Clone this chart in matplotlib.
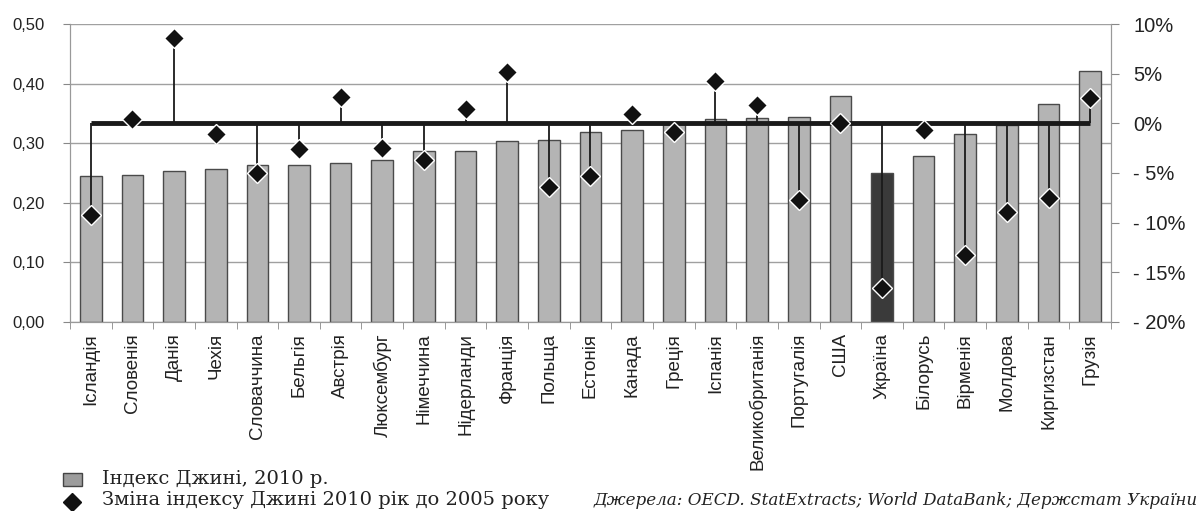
import numpy as np
import matplotlib
matplotlib.use('Agg')
import matplotlib.pyplot as plt
from matplotlib.ticker import FixedLocator
from matplotlib.patches import Rectangle
from matplotlib.lines import Line2D

# Data
countries = ['Ісландія', 'Словенія', 'Данія', 'Чехія', 'Словаччина', 'Бельгія', 'Австрія',
             'Люксембург', 'Німеччина', 'Нідерланди', 'Франція', 'Польща', 'Естонія', 'Канада',
             'Греція', 'Іспанія', 'Великобританія', 'Португалія', 'США', 'Україна', 'Білорусь',
             'Вірменія', 'Молдова', 'Киргизстан', 'Грузія']
gini_2010 = [0.245, 0.247, 0.254, 0.256, 0.263, 0.263, 0.267, 0.272, 0.287, 0.287, 0.304,
             0.306, 0.319, 0.322, 0.333, 0.340, 0.342, 0.344, 0.380, 0.250, 0.279, 0.315,
             0.330, 0.366, 0.421]
gini_change = [-9.2, 0.4, 8.6, -1.1, -5.0, -2.6, 2.7, -2.5, -3.7, 1.4, 5.2, -6.4, -5.3, 0.9,
               -0.9, 4.3, 1.8, -7.7, 0.0, -16.6, -0.7, -13.3, -8.9, -7.5, 2.6]
left_ticks = [0.0, 0.1, 0.2, 0.3, 0.4, 0.5]
right_ticks = [-20, -15, -10, -5, 0, 5, 10]
highlight = 'Україна'

sans = ['Liberation Sans', 'DejaVu Sans']
serif = ['DejaVu Serif']
W, H = 1202, 511

fig = plt.figure(figsize=(12.02, 5.11), dpi=100)
ax = fig.add_axes([0.0582, 0.370, 0.8661, 0.583])
ax2 = ax.twinx()

x = np.arange(len(countries))
colors = ['#3a3a3a' if c == highlight else '#b4b4b4' for c in countries]
ax.bar(x, gini_2010, width=0.52, color=colors, edgecolor='#4a4a4a', linewidth=1.0, zorder=2)

ax.set_xlim(-0.5, len(countries) - 0.5)
ax.set_ylim(0, 0.5)
ax.set_yticks(left_ticks)
ax.set_yticklabels([('%.2f' % v).replace('.', ',') for v in left_ticks],
                   fontsize=12, family=sans, color='#222222')
ax.yaxis.grid(True, color='#a0a0a0', linewidth=1.0, zorder=0)
ax.set_axisbelow(True)
ax.tick_params(axis='y', length=5, color='#888888', pad=13)

ax.set_xticks(x)
ax.set_xticklabels(countries, rotation=90, fontsize=13.5, family=sans, color='#222222')
ax.xaxis.set_minor_locator(FixedLocator(np.arange(-0.5, len(countries), 1.0)))
ax.tick_params(axis='x', which='major', length=0, pad=8)
ax.tick_params(axis='x', which='minor', length=5, color='#888888')

ax.spines['top'].set_visible(False)
ax2.spines['top'].set_visible(False)
for s in ['left', 'bottom', 'right']:
    ax.spines[s].set_color('#999999')
    ax2.spines[s].set_color('#999999')

# Change in Gini (secondary axis)
ax2.set_ylim(-20, 10)
ax2.set_yticks(right_ticks)
ax2.set_yticklabels([('%d%%' % v) if v >= 0 else ('- %d%%' % abs(v)) for v in right_ticks],
                    fontsize=14.5, family=sans, color='#222222')
ax2.tick_params(axis='y', length=6, color='#888888', pad=10)
ax2.vlines(x, 0, gini_change, color='#1a1a1a', linewidth=1.3, zorder=3)
ax2.plot([x[0], x[-1]], [0, 0], color='#1a1a1a', linewidth=3.5, solid_capstyle='butt', zorder=4)
ax2.plot(x, gini_change, linestyle='none', marker='D', markersize=10,
         markerfacecolor='#111111', markeredgecolor='white', markeredgewidth=1.0, zorder=5)

# Legend and source
fig.add_artist(Rectangle((63 / W, 1 - 486 / H), 19 / W, 13 / H, transform=fig.transFigure,
                         facecolor='#9c9c9c', edgecolor='#444444', linewidth=1.0))
fig.add_artist(Line2D([72 / W], [1 - 502 / H], transform=fig.transFigure, marker='D',
                      markersize=9, color='#111111', linestyle='none'))
fig.text(102 / W, 1 - 484 / H, 'Індекс Джині, 2010 р.', fontsize=14,
         ha='left', va='baseline', family=serif, color='#222222')
fig.text(102 / W, 1 - 505 / H, 'Зміна індексу Джині 2010 рік до 2005 року', fontsize=14,
         ha='left', va='baseline', family=serif, color='#222222')
fig.text(1198 / W, 1 - 505 / H, 'Джерела: OECD. StatExtracts; World DataBank; Держстат України',
         fontsize=12.1, ha='right', va='baseline', family=serif, style='italic', color='#222222')

fig.savefig('out.png', dpi=100)
